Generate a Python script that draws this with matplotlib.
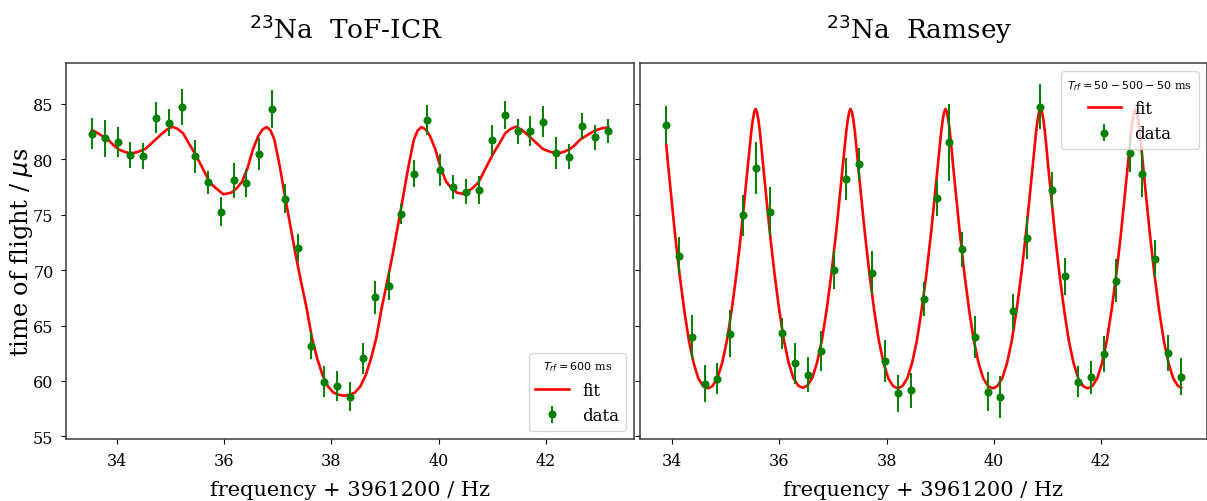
import matplotlib
matplotlib.use("Agg")
import matplotlib.pyplot as plt
import numpy as np

# ToF-ICR scan (left panel)
TOF_FREQ = [33.54, 33.78, 34.02, 34.26, 34.50, 34.74, 34.98, 35.22, 35.46, 35.70,
            35.94, 36.18, 36.42, 36.66, 36.90, 37.14, 37.38, 37.63, 37.87, 38.10,
            38.35, 38.59, 38.82, 39.07, 39.30, 39.55, 39.79, 40.03, 40.27, 40.51,
            40.75, 40.99, 41.23, 41.47, 41.71, 41.95, 42.19, 42.43, 42.68, 42.91,
            43.16]
TOF_TIME = [82.32, 81.90, 81.57, 80.37, 80.33, 83.74, 83.31, 84.73, 80.28, 77.93,
            75.28, 78.11, 77.84, 80.51, 84.55, 76.45, 71.97, 63.19, 59.95, 59.52,
            58.58, 62.07, 67.55, 68.60, 75.10, 78.71, 83.56, 79.05, 77.48, 77.09,
            77.21, 81.75, 84.01, 82.54, 82.60, 83.41, 80.56, 80.24, 83.01, 81.99,
            82.54]
TOF_ERR = [1.38, 1.70, 1.38, 1.16, 1.16, 1.40, 1.20, 1.64, 1.50, 1.05,
           1.32, 1.56, 1.25, 1.44, 1.71, 1.32, 1.25, 1.23, 1.40, 1.37,
           1.31, 1.40, 1.50, 1.32, 0.90, 1.20, 1.35, 1.43, 1.08, 1.14,
           1.26, 1.35, 1.23, 1.13, 1.35, 1.41, 1.47, 1.11, 1.16, 1.13,
           1.08]

# fit curve of the ToF-ICR resonance
TOF_FIT_X = [33.54, 33.64, 33.74, 33.84, 33.94, 34.04, 34.14, 34.24, 34.34, 34.44,
             34.54, 34.64, 34.74, 34.84, 34.94, 35.04, 35.14, 35.24, 35.34, 35.44,
             35.54, 35.64, 35.74, 35.84, 35.99, 36.14, 36.24, 36.34, 36.44, 36.54,
             36.64, 36.72, 36.80, 36.87, 36.94, 37.04, 37.14, 37.24, 37.34, 37.44,
             37.54, 37.64, 37.74, 37.84, 37.94, 38.04, 38.14, 38.24, 38.34, 38.44,
             38.54, 38.64, 38.74, 38.84, 38.94, 39.04, 39.14, 39.24, 39.34, 39.44,
             39.54, 39.61, 39.68, 39.76, 39.84, 39.94, 40.04, 40.14, 40.24, 40.34,
             40.49, 40.64, 40.74, 40.84, 40.94, 41.04, 41.14, 41.24, 41.34, 41.44,
             41.54, 41.64, 41.74, 41.84, 41.94, 42.04, 42.14, 42.24, 42.34, 42.44,
             42.54, 42.64, 42.74, 42.84, 42.94, 43.04, 43.16]
TOF_FIT_Y = [82.65, 82.40, 82.10, 81.80, 81.30, 80.90, 80.70, 80.55, 80.60, 80.75,
             80.95, 81.40, 81.85, 82.30, 82.70, 82.95, 82.75, 82.35, 81.50, 80.70,
             79.80, 78.85, 77.90, 77.45, 76.85, 77.00, 77.40, 78.00, 79.20, 80.90,
             82.10, 82.70, 82.92, 82.60, 81.80, 79.40, 76.65, 73.95, 71.30, 68.90,
             66.60, 63.90, 62.00, 60.50, 59.50, 58.95, 58.75, 58.67, 58.75, 58.95,
             59.50, 60.50, 62.00, 63.90, 66.60, 68.90, 71.30, 73.95, 76.65, 79.40,
             81.80, 82.60, 82.92, 82.70, 82.10, 80.90, 79.20, 78.00, 77.40, 77.00,
             76.85, 77.45, 77.90, 78.85, 79.80, 80.70, 81.50, 82.35, 82.75, 82.95,
             82.70, 82.30, 81.85, 81.40, 80.95, 80.75, 80.60, 80.55, 80.70, 80.90,
             81.30, 81.80, 82.10, 82.40, 82.65, 82.80, 82.90]

# Ramsey scan (right panel)
RAM_FREQ = [33.88, 34.12, 34.37, 34.61, 34.84, 35.08, 35.33, 35.57, 35.82, 36.05,
            36.29, 36.53, 36.77, 37.01, 37.25, 37.49, 37.73, 37.97, 38.21, 38.45,
            38.69, 38.93, 39.17, 39.40, 39.64, 39.89, 40.12, 40.36, 40.61, 40.85,
            41.09, 41.33, 41.57, 41.81, 42.05, 42.28, 42.53, 42.77, 43.00, 43.25,
            43.49]
RAM_TIME = [83.08, 71.31, 63.94, 59.76, 60.18, 64.27, 74.95, 79.22, 75.28, 64.30,
            61.60, 60.57, 62.71, 70.02, 78.23, 79.58, 69.78, 61.81, 58.89, 59.16,
            67.40, 76.54, 81.54, 71.88, 63.94, 59.03, 58.58, 66.29, 72.88, 84.76,
            77.24, 69.44, 59.94, 60.33, 62.41, 69.05, 80.55, 78.71, 71.01, 62.50,
            60.39]
RAM_ERR = [1.73, 1.67, 2.00, 1.68, 1.40, 2.09, 1.87, 2.33, 2.21, 1.40,
           1.85, 1.60, 1.78, 1.73, 1.94, 1.46, 1.91, 1.93, 1.67, 1.60,
           1.53, 1.61, 3.50, 1.61, 1.88, 1.76, 1.91, 1.59, 1.90, 2.03,
           1.65, 1.67, 1.43, 1.47, 1.62, 1.96, 1.73, 2.09, 1.68, 1.61,
           1.65]

# Ramsey fit: fringe extrema (peak/min alternating) and the half-fringe shape
RAM_EXT_X = [33.785, 34.664, 35.556, 36.435, 37.327, 38.206,
             39.098, 39.977, 40.869, 41.748, 42.640, 43.519]
RAM_EXT_Y = [84.55, 59.35, 84.55, 59.40, 84.55, 59.35,
             84.55, 59.35, 84.60, 59.35, 84.55, 59.35]
SHAPE_U = [0.0, 0.03, 0.06, 0.09, 0.12, 0.17, 0.23, 0.30, 0.40, 0.50, 0.60, 0.70, 0.80, 0.90, 0.97, 1.0]
SHAPE_G = [0.0, 0.012, 0.04, 0.08, 0.13, 0.22, 0.32, 0.44, 0.59, 0.72, 0.83, 0.91, 0.965, 0.992, 0.999, 1.0]

Y_TICKS = [55, 60, 65, 70, 75, 80, 85]
X_TICKS = [34, 36, 38, 40, 42]


def ramsey_fit_curve():
    u = np.array(SHAPE_U)
    g = np.array(SHAPE_G)
    xs, ys = [], []
    for i in range(len(RAM_EXT_X) - 1):
        xa, xb = RAM_EXT_X[i], RAM_EXT_X[i + 1]
        ya, yb = RAM_EXT_Y[i], RAM_EXT_Y[i + 1]
        if ya > yb:
            xp, yp, xm, ym = xa, ya, xb, yb
        else:
            xp, yp, xm, ym = xb, yb, xa, ya
        sx = xp + u * (xm - xp)
        sy = yp - g * (yp - ym)
        order = np.argsort(sx)
        sx, sy = sx[order], sy[order]
        if i > 0:
            sx, sy = sx[1:], sy[1:]
        xs.append(sx)
        ys.append(sy)
    x = np.concatenate(xs)
    y = np.concatenate(ys)
    keep = (x >= RAM_FREQ[0] - 0.01) & (x <= RAM_FREQ[-1] + 0.01)
    return x[keep], y[keep]


plt.rcParams["font.family"] = "DejaVu Serif"
plt.rcParams["axes.edgecolor"] = "#3a3a3a"
plt.rcParams["axes.linewidth"] = 1.1

fig = plt.figure(figsize=(12.07, 5.02), dpi=100)
ax1 = fig.add_axes([0.0547, 0.1235, 0.4706, 0.749])
ax2 = fig.add_axes([0.5302, 0.1235, 0.4698, 0.749], sharey=ax1)

panels = [
    (ax1, TOF_FIT_X, TOF_FIT_Y, TOF_FREQ, TOF_TIME, TOF_ERR,
     r"$^{23}$Na  ToF-ICR  ", r"$T_{rf} = 600$ ms", "lower right"),
]
rx, ry = ramsey_fit_curve()
panels.append((ax2, rx, ry, RAM_FREQ, RAM_TIME, RAM_ERR,
               r"$^{23}$Na  Ramsey  ", r"$T_{rf} = 50 - 500 - 50$ ms", "upper right"))

for ax, fx, fy, x, y, err, title, ltitle, loc in panels:
    ax.plot(fx, fy, color="red", lw=1.9, label="fit")
    ax.errorbar(x, y, yerr=err, fmt="o", color="green", ms=4.8,
                elinewidth=1.4, capsize=0, label="data")
    ax.set_xticks(X_TICKS)
    ax.set_title(title, fontsize=19, pad=18)
    ax.set_xlabel("frequency + 3961200 / Hz", fontsize=15, labelpad=8)
    ax.tick_params(labelsize=11.5, pad=5.5)
    leg = ax.legend(loc=loc, title=ltitle, fontsize=12, title_fontsize=8)

ax1.set_ylim(54.76, 88.7)
ax1.set_yticks(Y_TICKS)
ax1.set_ylabel(r"time of flight / $\mu$s", fontsize=17.3, labelpad=-1.5)
ax2.tick_params(labelleft=False)

fig.savefig("out.png", dpi=100)
